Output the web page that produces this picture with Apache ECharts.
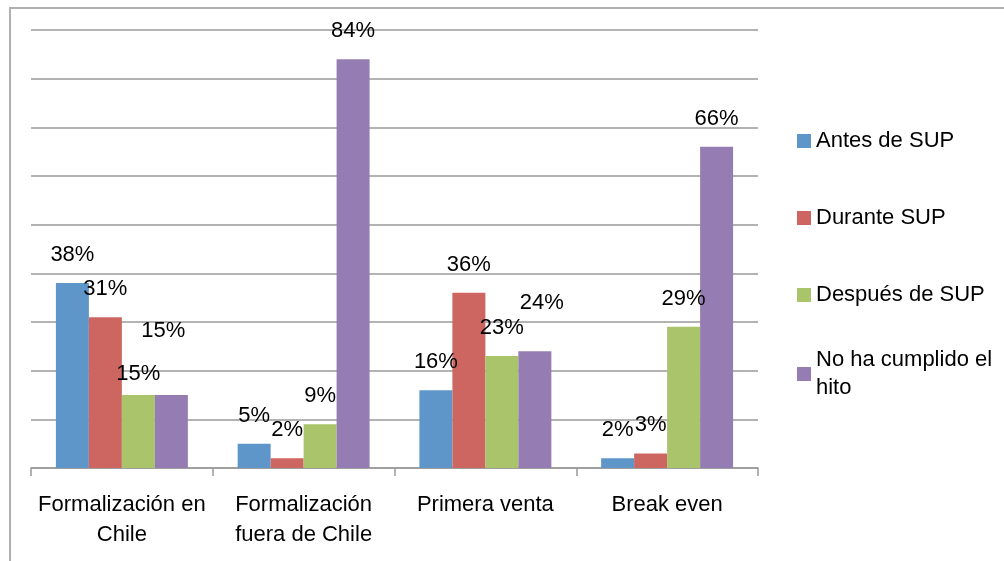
<!DOCTYPE html>
<html>
<head>
<meta charset="utf-8">
<script src="https://cdn.jsdelivr.net/npm/echarts@6/dist/echarts.min.js"></script>
<style>
html,body{margin:0;padding:0;background:#fff;}
#chart{width:1004px;height:561px;}
</style>
</head>
<body>
<div id="chart"></div>
<script>
var categories = ['Formalización en\nChile', 'Formalización\nfuera de Chile', 'Primera venta', 'Break even'];
var seriesNames = ['Antes de SUP', 'Durante SUP', 'Después de SUP', 'No ha cumplido el hito'];
var antes = [38, 5, 16, 2];
var durante = [31, 2, 36, 3];
var despues = [15, 9, 23, 29];
var noCumplido = [15, 84, 24, 66];
var yTicks = [0, 10, 20, 30, 40, 50, 60, 70, 80, 90];

var colors = ['#5F96C9', '#CD6660', '#AAC46C', '#957CB2'];
var FONT = "'Liberation Sans Narrow', 'Arial Narrow', 'Liberation Sans', Arial, sans-serif";

// label nudges (style only), keyed by series index and category index
var labelOffsets = { '2-0': [0, 7], '3-0': [-8, -36], '3-2': [7, -20] };

function buildData(values, si) {
  return values.map(function (v, ci) {
    var off = labelOffsets[si + '-' + ci];
    return off ? { value: v, label: { offset: off } } : v;
  });
}

var allValues = [antes, durante, despues, noCumplido];
var series = allValues.map(function (vals, si) {
  return {
    name: seriesNames[si],
    type: 'bar',
    data: buildData(vals, si),
    barGap: '0%',
    barCategoryGap: '27.4%',
    itemStyle: { color: colors[si] },
    label: {
      show: true,
      position: 'top',
      distance: 17,
      formatter: '{c}%',
      color: '#000',
      fontSize: 22,
      lineHeight: 22,
      fontFamily: FONT
    }
  };
});

var chart = echarts.init(document.getElementById('chart'), null, { renderer: 'canvas' });
chart.setOption({
  animation: false,
  backgroundColor: '#fff',
  color: colors,
  textStyle: { fontFamily: FONT },
  graphic: [{
    type: 'rect',
    silent: true,
    z: -10,
    shape: { x: 10, y: 8, width: 1200, height: 800 },
    style: { fill: 'none', stroke: '#b0b0b0', lineWidth: 2 }
  }],
  grid: { left: 31, right: 246, top: 30, bottom: 93, containLabel: false },
  legend: [{
    orient: 'vertical',
    left: 797,
    top: 128,
    padding: 0,
    itemWidth: 14,
    itemHeight: 14,
    itemGap: 51,
    icon: 'rect',
    selectedMode: false,
    data: seriesNames.slice(0, 3),
    textStyle: { color: '#000', fontSize: 22, lineHeight: 26, fontFamily: FONT }
  }, {
    orient: 'vertical',
    left: 797,
    top: 332,
    padding: 0,
    itemWidth: 14,
    itemHeight: 14,
    icon: 'rect',
    selectedMode: false,
    data: seriesNames.slice(3),
    formatter: function (name) { return 'No ha cumplido el\nhito'; },
    textStyle: { color: '#000', fontSize: 22, lineHeight: 28, padding: [28, 0, 0, 0], fontFamily: FONT }
  }],
  xAxis: {
    type: 'category',
    data: categories,
    axisLine: { show: true, lineStyle: { color: '#999', width: 1.5 } },
    axisTick: { show: true, alignWithLabel: false, length: 8, lineStyle: { color: '#999', width: 1.5 } },
    axisLabel: { color: '#000', fontSize: 22, lineHeight: 30, margin: 22, fontFamily: FONT, interval: 0 }
  },
  yAxis: {
    type: 'value',
    min: yTicks[0],
    max: yTicks[yTicks.length - 1],
    interval: yTicks[1] - yTicks[0],
    axisLine: { show: false },
    axisTick: { show: false },
    axisLabel: { show: false },
    splitLine: { show: true, lineStyle: { color: '#9a9a9a', width: 1.5 } }
  },
  series: series
});
</script>
</body>
</html>
